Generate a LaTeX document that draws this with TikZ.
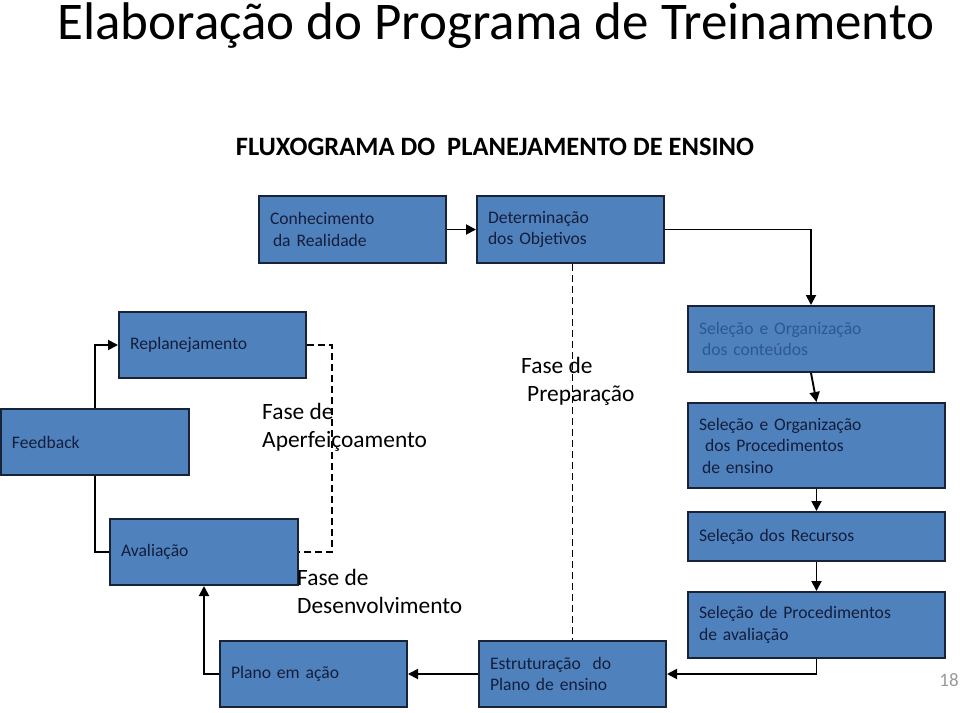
\documentclass[tikz,border=0pt]{standalone}
\usepackage{fontspec}
\setmainfont{Carlito}
\usetikzlibrary{arrows.meta,calc}
\definecolor{boxfill}{RGB}{79,129,189}
\definecolor{boxline}{RGB}{25,35,55}
\definecolor{boxtext}{RGB}{20,30,60}
\definecolor{softtext}{RGB}{45,88,150}
\tikzset{
  box/.style={draw=boxline, line width=2pt, fill=boxfill, anchor=north west,
    inner xsep=11pt, inner ysep=0pt, align=left, text=boxtext,
    font=\fontsize{17.6}{21.5}\selectfont},
  conn/.style={line width=1.9pt, draw=black},
  arr/.style={conn, -{Triangle[length=10pt,width=10pt]}},
  dashline/.style={line width=1.9pt, dash pattern=on 7pt off 4pt},
  phase/.style={anchor=west, align=left, inner sep=0pt,
    font=\fontsize{23.4}{28}\selectfont}
}
\newcommand{\boxat}[6]{% name, x, y, w, h, text
  \node[box, minimum width=#4pt, minimum height=#5pt, text width=#4pt-22pt] (#1) at (#2,#3) {#6};}
\begin{document}
\begin{tikzpicture}[x=1pt,y=-1pt]
\useasboundingbox (0,0) rectangle (960,712);

\node[anchor=base, inner sep=0pt, font=\fontsize{53}{60}\selectfont] (title) at (496,39) {Elaboração do Programa de Treinamento};
\node[anchor=base, inner sep=0pt, font=\fontsize{26.5}{30}\selectfont\bfseries] (sub) at (495,155) {FLUXOGRAMA DO\ \ PLANEJAMENTO DE ENSINO};

\boxat{con}{258}{195}{187}{67}{Conhecimento\\\hspace*{3pt}da Realidade}
\boxat{det}{476}{195}{187}{67}{Determinação\\dos Objetivos}
\boxat{rep}{118}{311}{187}{66}{Replanejamento}
\boxat{fb}{0}{408}{188}{66}{Feedback}
\node[box, minimum width=246pt, minimum height=66pt, text width=224pt, text=softtext] (sc) at (687,305) {Seleção e Organização\\\hspace*{3pt}dos conteúdos};
\boxat{sp}{687}{402}{257}{85}{Seleção e Organização\\\hspace*{6pt}dos Procedimentos\\\hspace*{3pt}de ensino}
\boxat{rec}{687}{511}{257}{49}{Seleção dos Recursos}
\boxat{spa}{687}{591}{257}{66}{Seleção de Procedimentos\\de avaliação}
\boxat{est}{478}{640}{187}{66}{Estruturação\ \ do\\Plano de ensino}
\boxat{pla}{219}{640}{187}{66}{Plano em ação}
\boxat{ava}{109}{518}{188}{66}{Avaliação}

\node[phase] (fa) at (262,427) {Fase de\\Aperfeiçoamento};
\node[phase] (fp) at (521,381) {Fase de\\\hspace*{6pt}Preparação};
\node[phase] (fd) at (297,591) {Fase de\\Desenvolvimento};

\node[anchor=center, inner sep=0pt, text=gray!80, font=\fontsize{19}{20}\selectfont] (pg) at (949,680) {18};

% connectors
\draw[arr] (con.east) -- (det.west);
\draw[arr] (det.east) -| (sc.north);
\draw[arr] (sc.south) -- (sp.north);
\draw[arr] (sp.south) -- (rec.north);
\draw[arr] (rec.south) -- (spa.north);
\draw[arr] (spa.south) |- (est.east);
\draw[arr] (est.west) -- (pla.east);
\draw[arr] (pla.west) -| (ava.south);
\draw[conn] (fb.south) |- (ava.west);
\draw[arr] (fb.north) |- (rep.west);

% dashed phase lines
\draw[dashline] (rep.east) -- ++(25,0) |- (ava.east);
\draw[dashline] (est.north |- det.south) -- (est.north);
\end{tikzpicture}
\end{document}
